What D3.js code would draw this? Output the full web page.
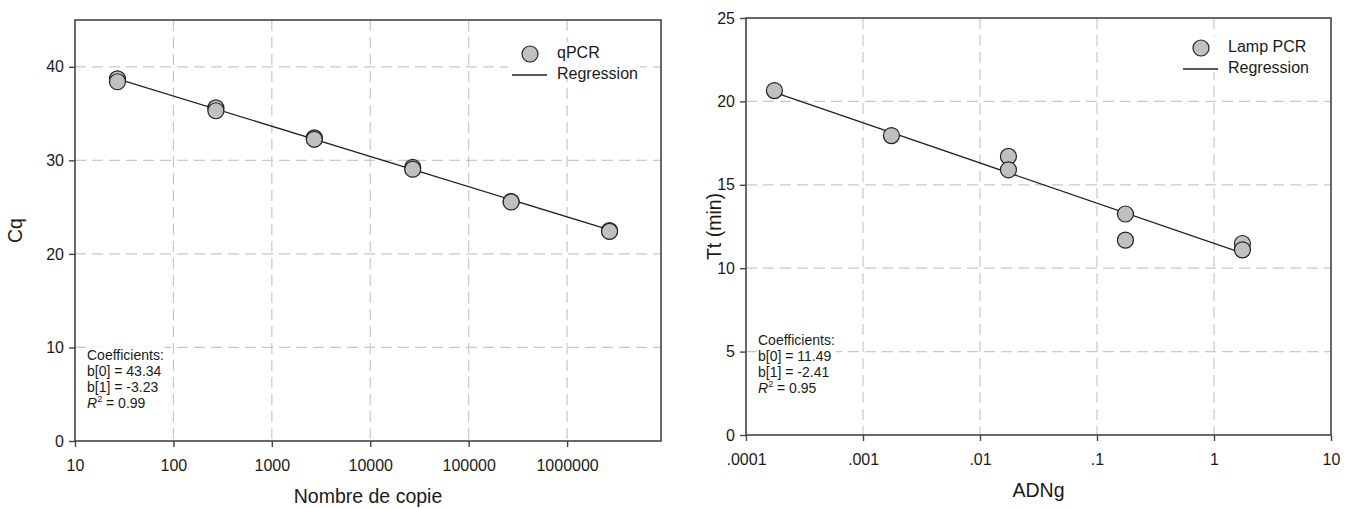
<!DOCTYPE html>
<html><head><meta charset="utf-8">
<script src="https://cdn.jsdelivr.net/npm/d3@7"></script>
<style>
html,body{margin:0;padding:0;background:#fff;}
svg text{font-family:"Liberation Sans",Arial,sans-serif;fill:#1a1a1a;}
</style></head>
<body>
<svg id="c" width="1348" height="508"></svg>
<script>
// ---------- data ----------
const qpcrCopies = [27, 27, 270, 270, 2700, 2700, 27000, 27000, 270000, 270000, 2700000, 2700000];
const qpcrCq     = [38.7, 38.4, 35.6, 35.3, 32.4, 32.25, 29.25, 29.05, 25.6, 25.55, 22.5, 22.4];
const qpcrCoef   = {b0: 43.34, b1: -3.23};
const qpcrText   = ["Coefficients:", "b[0] = 43.34", "b[1] = -3.23", "= 0.99"];
const qpcrXTicks = [10, 100, 1000, 10000, 100000, 1000000];
const qpcrYTicks = [0, 10, 20, 30, 40];

const lampDNA    = [0.000175, 0.00175, 0.0175, 0.0175, 0.175, 0.175, 1.75, 1.75];
const lampTt     = [20.65, 17.95, 16.7, 15.9, 13.25, 11.68, 11.48, 11.1];
const lampCoef   = {b0: 11.49, b1: -2.41};
const lampText   = ["Coefficients:", "b[0] = 11.49", "b[1] = -2.41", "= 0.95"];
const lampXTicks = [0.0001, 0.001, 0.01, 0.1, 1, 10];
const lampYTicks = [0, 5, 10, 15, 20, 25];

const svg = d3.select("#c");
const FONT = '"Liberation Sans",Arial,sans-serif';

function panel(o) {
  const g = svg.append("g");
  const x = d3.scaleLog().domain(o.xDomain).range([o.left, o.right]);
  const y = d3.scaleLinear().domain(o.yDomain).range([o.bottom, o.top]);

  // grid
  g.append("g").selectAll("line").data(o.xTicks.filter(v => x(v) > o.left + 1 && x(v) < o.right - 1))
    .join("line").attr("x1", d => x(d)).attr("x2", d => x(d)).attr("y1", o.top).attr("y2", o.bottom)
    .attr("stroke", "#c8c8c8").attr("stroke-width", 1.2).attr("stroke-dasharray", "11,6");
  g.append("g").selectAll("line").data(o.yTicks.filter(v => y(v) < o.bottom - 1 && y(v) > o.top + 1))
    .join("line").attr("y1", d => y(d)).attr("y2", d => y(d)).attr("x1", o.left).attr("x2", o.right)
    .attr("stroke", "#c8c8c8").attr("stroke-width", 1.2).attr("stroke-dasharray", "11,6");

  // coefficient text block with white background
  const tb = g.append("g");
  const tg = tb.append("g");
  o.text.forEach((t, i) => {
    const tt = tg.append("text").attr("x", o.textX).attr("y", o.textY + i * o.textStep)
      .attr("font-size", 14).attr("dominant-baseline", "middle");
    if (i === 3) {
      tt.append("tspan").attr("font-style", "italic").text("R");
      tt.append("tspan").attr("font-size", 9).attr("dy", -4).text("2");
      tt.append("tspan").attr("dy", 4).text(" " + t);
    } else tt.text(t);
  });
  const bb = tg.node().getBBox();
  tb.insert("rect", ":first-child").attr("x", bb.x - 1).attr("y", bb.y).attr("width", bb.width + 2)
    .attr("height", bb.height).attr("fill", "#fff");

  // legend
  const lg = g.append("g");
  lg.append("rect").attr("x", o.legX - 22).attr("y", o.legY - 12).attr("width", o.legW).attr("height", 36).attr("fill", "#fff");
  lg.append("circle").attr("cx", o.legX).attr("cy", o.legY).attr("r", 8)
    .attr("fill", "#c0c0c0").attr("stroke", "#222").attr("stroke-width", 1.2);
  lg.append("line").attr("x1", o.legX - 18).attr("x2", o.legX + 17).attr("y1", o.legY + 21).attr("y2", o.legY + 21)
    .attr("stroke", "#222").attr("stroke-width", 1.3);
  lg.append("text").attr("x", o.legX + 27).attr("y", o.legY).attr("dominant-baseline", "middle").attr("font-size", 16).text(o.legName);
  lg.append("text").attr("x", o.legX + 27).attr("y", o.legY + 21).attr("dominant-baseline", "middle").attr("font-size", 16).text("Regression");

  // regression line
  const xs = d3.extent(o.xs);
  g.append("line")
    .attr("x1", x(xs[0])).attr("y1", y(o.coef.b0 + o.coef.b1 * Math.log10(xs[0])))
    .attr("x2", x(xs[1])).attr("y2", y(o.coef.b0 + o.coef.b1 * Math.log10(xs[1])))
    .attr("stroke", "#222").attr("stroke-width", 1.3);

  // points
  g.append("g").selectAll("circle").data(o.xs.map((v, i) => [v, o.ys[i]])).join("circle")
    .attr("cx", d => x(d[0])).attr("cy", d => y(d[1])).attr("r", 8)
    .attr("fill", "#c0c0c0").attr("stroke", "#222").attr("stroke-width", 1.2);

  // frame
  g.append("rect").attr("x", o.left).attr("y", o.top).attr("width", o.right - o.left).attr("height", o.bottom - o.top)
    .attr("fill", "none").attr("stroke", "#444").attr("stroke-width", 1.6);

  // axes
  const ax = g.append("g").attr("transform", `translate(0,${o.bottom})`)
    .call(d3.axisBottom(x).tickValues(o.xTicks).tickFormat(o.xFmt).tickSize(6).tickPadding(13));
  const ay = g.append("g").attr("transform", `translate(${o.left},0)`)
    .call(d3.axisLeft(y).tickValues(o.yTicks).tickSize(6).tickPadding(5));
  [ax, ay].forEach(a => {
    a.select(".domain").remove();
    a.selectAll(".tick line").attr("stroke", "#444").attr("stroke-width", 1.4);
    a.selectAll(".tick text").attr("font-size", 16).attr("fill", "#1a1a1a").attr("font-family", FONT);
  });

  // titles
  g.append("text").attr("x", (o.left + o.right) / 2).attr("y", o.bottom + 57).attr("text-anchor", "middle")
    .attr("dominant-baseline", "middle").attr("font-size", 19.5).text(o.xTitle);
  g.append("text").attr("transform", `translate(${o.yTitleX},${(o.top + o.bottom) / 2}) rotate(-90)`)
    .attr("text-anchor", "middle").attr("dominant-baseline", "middle").attr("font-size", 19.5).text(o.yTitle);
}

panel({
  left: 75, right: 661, top: 20, bottom: 441,
  xDomain: [10, 9e6], yDomain: [0, 45],
  xTicks: qpcrXTicks, yTicks: qpcrYTicks, xFmt: d3.format("d"),
  xs: qpcrCopies, ys: qpcrCq, coef: qpcrCoef,
  text: qpcrText, textX: 87, textY: 356, textStep: 16,
  legX: 530, legY: 54, legW: 132, legName: "qPCR",
  xTitle: "Nombre de copie", yTitle: "Cq", yTitleX: 17
});

panel({
  left: 746, right: 1331, top: 18, bottom: 435,
  xDomain: [0.0001, 10], yDomain: [0, 25],
  xTicks: lampXTicks, yTicks: lampYTicks, xFmt: d => (d >= 1 ? String(d) : String(d).replace(/^0/, "")),
  xs: lampDNA, ys: lampTt, coef: lampCoef,
  text: lampText, textX: 758, textY: 341, textStep: 16,
  legX: 1201, legY: 48, legW: 128, legName: "Lamp PCR",
  xTitle: "ADNg", yTitle: "Tt (min)", yTitleX: 716
});
</script>
</body></html>
